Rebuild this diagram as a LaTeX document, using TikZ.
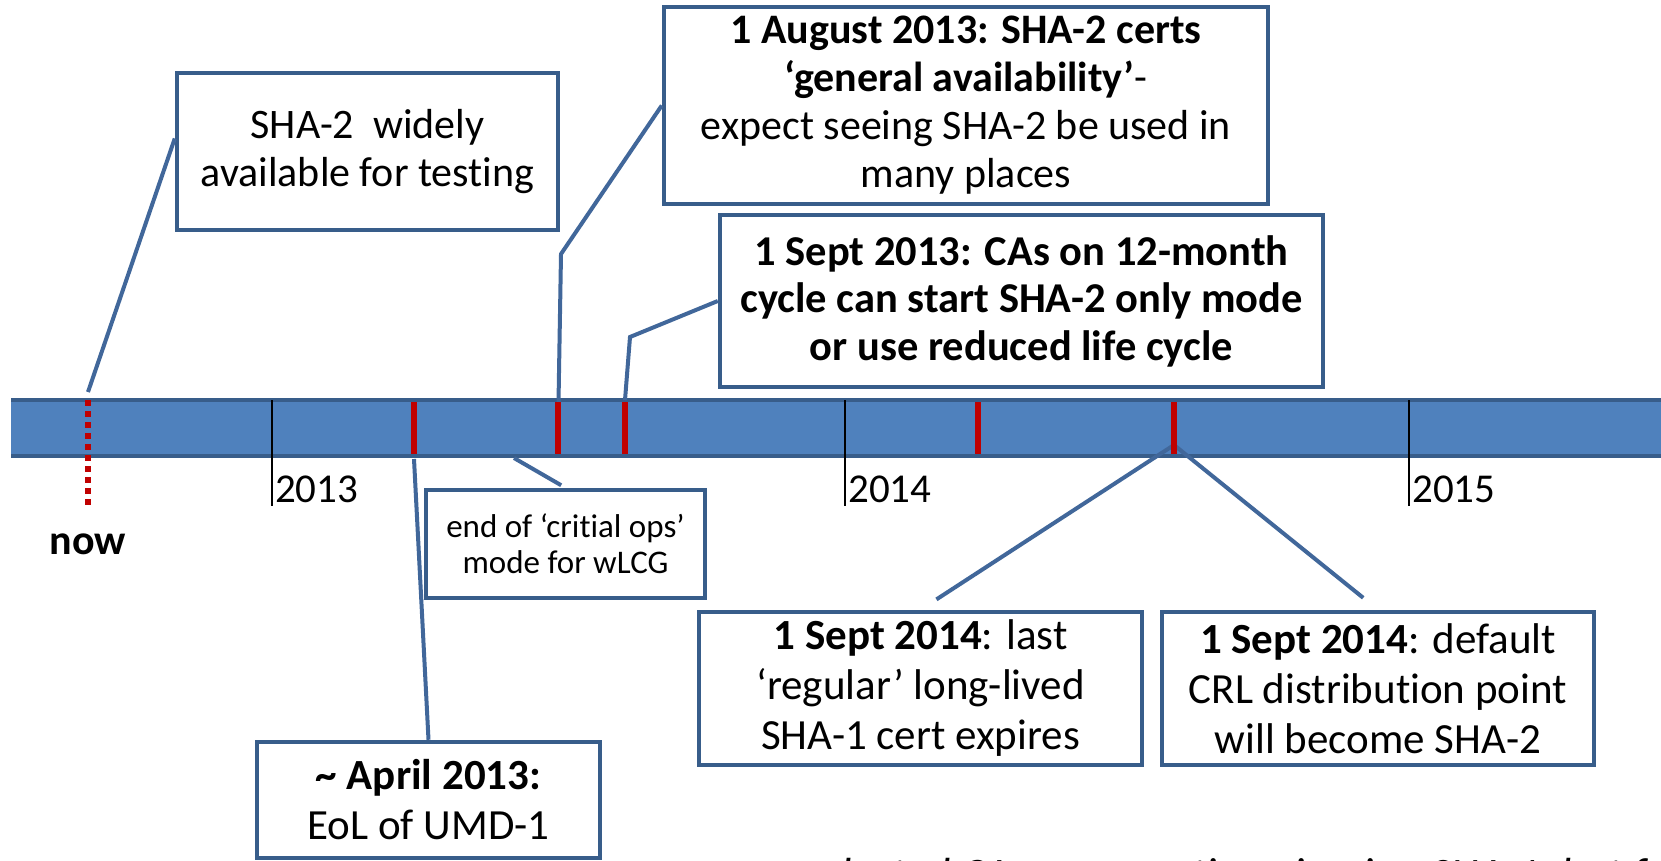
\documentclass[tikz,border=0pt]{standalone}
\usepackage{fontspec}
\setmainfont{Carlito}[Ligatures=NoCommon]
\definecolor{barblue}{HTML}{4F81BD}
\definecolor{boxblue}{HTML}{385D8A}
\definecolor{lineblue}{HTML}{41679A}
\definecolor{markred}{HTML}{C00000}

\begin{document}
\begin{tikzpicture}[x=1pt, y=-1pt,
  box/.style={draw=boxblue, line width=4.5pt, fill=white, align=center, inner sep=0pt,
    font=\fontsize{42}{48}\selectfont},
  callout/.style={draw=lineblue, line width=4pt},
  marker/.style={draw=markred, line width=6pt},
  yeartick/.style={draw=black, line width=1.2pt}]
\useasboundingbox (0,0) rectangle (1661,860);

% timeline bar
\fill[barblue] (11,400) rectangle (1661,456);
\draw[boxblue, line width=4pt] (11,400) -- (1661,400) (11,456) -- (1661,456);

% years
\foreach \x/\yr in {272/2013, 845/2014, 1409/2015} {
  \draw[yeartick] (\x,400) -- (\x,506);
  \node[anchor=base west, inner sep=0pt, font=\fontsize{41}{46}\selectfont] (y\yr) at (\x+3,502) {\yr};
}

% now
\draw[markred, line width=6pt, dash pattern=on 6pt off 5pt] (88,400) -- (88,506);
\node[anchor=base, inner sep=0pt, font=\bfseries\fontsize{42}{48}\selectfont] (now) at (88,554) {now};

% boxes
\node[box, minimum width=381, minimum height=157] (sha) at (367.5,151.5)
  {SHA-2\ \ widely\\available for testing};
\node[box, minimum width=604, minimum height=197] (certs) at (966,105.5)
  {\textbf{1 August 2013: SHA-2 certs}\\\textbf{‘general availability’}-\\expect seeing SHA-2 be used in\\many places};
\node[box, minimum width=603, minimum height=172, font=\bfseries\fontsize{42.5}{47.5}\selectfont] (cycle) at (1021.5,301)
  {1 Sept 2013: CAs on 12-month\\cycle can start SHA-2 only mode\\or use reduced life cycle};
\node[box, minimum width=279, minimum height=108, font=\fontsize{33}{36}\selectfont] (ops) at (565.5,544)
  {end of ‘critial ops’\\mode for wLCG};
\node[box, minimum width=343, minimum height=116, font=\fontsize{43}{50}\selectfont] (umd) at (428.5,800)
  {\textbf{\textasciitilde{} April 2013:}\\EoL of UMD-1};
\node[box, minimum width=443, minimum height=153, font=\fontsize{43}{50}\selectfont] (last) at (920.5,688.5)
  {\textbf{1 Sept 2014}: last\\‘regular’ long-lived\\SHA-1 cert expires};
\node[box, minimum width=432, minimum height=153, font=\fontsize{43}{50}\selectfont] (crl) at (1378,688.5)
  {\textbf{1 Sept 2014}: default\\CRL distribution point\\will become SHA-2};

% callouts
\coordinate (nowtop) at (88,392);
\coordinate (augfoot) at (558,432);
\coordinate (augbend) at (561,254);
\coordinate (sepfoot) at (625,400);
\coordinate (sepbend) at (630,337);
\coordinate (opsfoot) at (514,458);
\coordinate (aprfoot) at (414,459);
\coordinate (lastfoot) at (1174,445);
\draw[callout] (nowtop) -- ([yshift=13pt]sha.west);
\draw[callout] (augfoot) -- (augbend) -- (certs.west);
\draw[callout] (sepfoot) -- (sepbend) -- (cycle.west);
\draw[callout, shorten >=5pt] (opsfoot) -- (ops.north);
\draw[callout] (aprfoot) -- (umd.north);
\draw[callout, shorten >=19pt] (lastfoot) -- (last.north);
\draw[callout, shorten >=19pt] (lastfoot) -- (crl.north);

% red markers
\foreach \x in {414, 558, 625, 978, 1174}
  \draw[marker] (\x,402) -- (\x,454);

% note at the foot, cut by the page edge
\node[anchor=base west, inner sep=0pt, font=\itshape\fontsize{45}{50}\selectfont] (note) at (802,889)
  {selected CAs may continue issuing SHA-1, but f};
\end{tikzpicture}
\end{document}
